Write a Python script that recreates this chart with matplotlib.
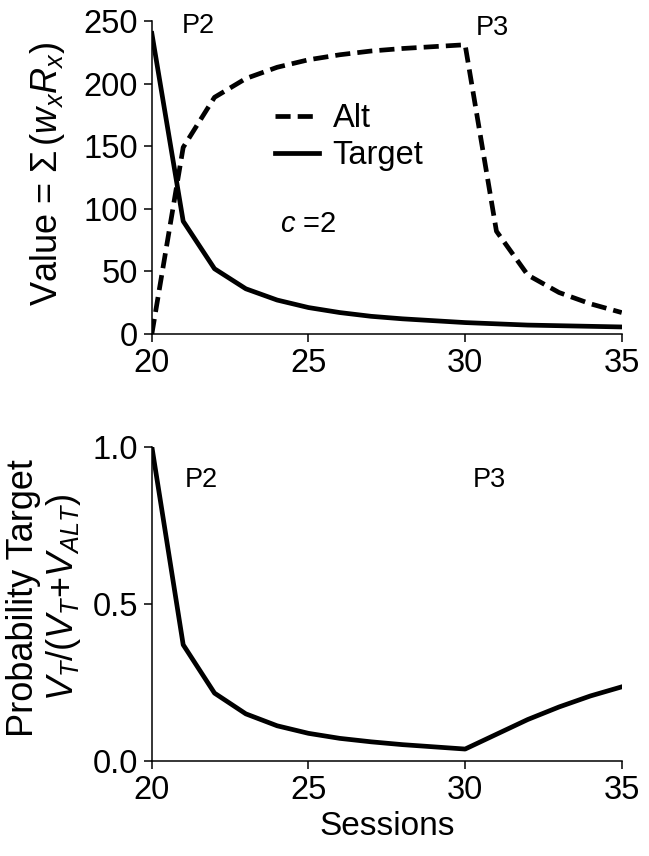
import matplotlib.pyplot as plt

sessions = list(range(20, 36))
target_value = [240, 90, 52, 36, 27, 21, 17, 14, 12, 10.5, 9, 8, 7, 6.5, 6, 5.5]
alt_value = [0, 149, 189, 204, 213, 219, 223, 226, 228, 229.5, 231, 82, 47, 33, 24, 17]
prob_target = [1.0, 0.37, 0.216, 0.15, 0.112, 0.088, 0.072, 0.061, 0.052, 0.045, 0.038,
               0.085, 0.132, 0.172, 0.207, 0.236]

plt.rcParams['font.family'] = ['Liberation Sans', 'DejaVu Sans']
plt.rcParams['mathtext.fontset'] = 'custom'
plt.rcParams['mathtext.rm'] = 'Liberation Sans'
plt.rcParams['mathtext.it'] = 'Liberation Sans:italic'

fig = plt.figure(figsize=(6.49, 8.56), dpi=100)
ax1 = fig.add_axes([0.234, 0.610, 0.724, 0.3655])
ax2 = fig.add_axes([0.234, 0.111, 0.724, 0.367])

for ax in (ax1, ax2):
    ax.spines['top'].set_visible(False)
    ax.spines['right'].set_visible(False)
    ax.spines['left'].set_linewidth(1.1)
    ax.spines['bottom'].set_linewidth(1.1)
    ax.tick_params(direction='out', length=6, width=1.1, labelsize=23.5, pad=4)
    ax.set_xlim(20, 35)
    ax.set_xticks([20, 25, 30, 35])

ax1.plot(sessions, alt_value, color='black', lw=3.4, ls=(0, (3.2, 1.5)), label='Alt')
ax1.plot(sessions, target_value, color='black', lw=3.4, label='Target')
ax1.set_ylim(0, 250)
ax1.set_yticks([0, 50, 100, 150, 200, 250])
ax1.set_ylabel(r'Value = $\Sigma\,(\mathit{w}_{\mathit{x}}\mathit{R}_{\mathit{x}})$', fontsize=26)
ax1.yaxis.set_label_coords(-0.18, 0.51)
ax1.legend(loc='upper left', bbox_to_anchor=(0.262, 0.738), frameon=False, fontsize=23.5,
           handlelength=1.35, handletextpad=0.42, labelspacing=0.2, borderpad=0,
           borderaxespad=0)
ax1.text(0.272, 0.326, r'$\mathit{c}$ =2', transform=ax1.transAxes, fontsize=21)
ax1.text(0.064, 0.962, 'P2', transform=ax1.transAxes, fontsize=19.5)
ax1.text(0.689, 0.955, 'P3', transform=ax1.transAxes, fontsize=19.5)

ax2.plot(sessions, prob_target, color='black', lw=3.4)
ax2.set_ylim(0, 1.0)
ax2.set_yticks([0.0, 0.5, 1.0])
ax2.yaxis.set_major_formatter(plt.FormatStrFormatter('%.1f'))
ax2.set_ylabel('Probability Target', fontsize=26)
ax2.yaxis.set_label_coords(-0.236, 0.52)
ax2.text(-0.189, 0.52, r'$\mathit{V}_{\mathit{T}}/(\mathit{V}_{\mathit{T}}$+$\mathit{V}_{\mathit{ALT}})$',
         transform=ax2.transAxes, fontsize=26, rotation=90, ha='center', va='center')
ax2.set_xlabel('Sessions', fontsize=24, labelpad=4)
ax2.text(0.070, 0.873, 'P2', transform=ax2.transAxes, fontsize=19.5)
ax2.text(0.683, 0.873, 'P3', transform=ax2.transAxes, fontsize=19.5)

fig.savefig('out.png', dpi=100)
